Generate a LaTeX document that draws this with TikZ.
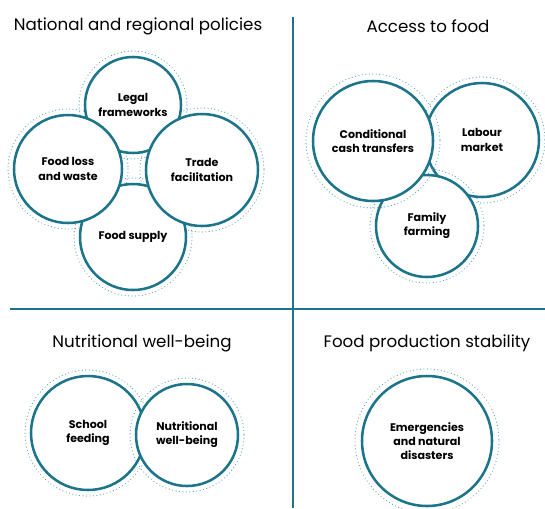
\documentclass[tikz,border=0pt]{standalone}
\usepackage{fontspec}
\setmainfont{Poppins}
\usepackage{tikz}

\definecolor{teal}{RGB}{27,116,137}
\definecolor{dots}{RGB}{95,165,185}

\begin{document}
\begin{tikzpicture}[x=0.75pt,y=-0.75pt,
    title/.style={font=\fontsize{12.5}{15}\selectfont, text=black},
    circ/.style={circle, draw=teal, line width=1.9pt, fill=white, inner sep=0pt, align=center,
                 font=\bfseries\fontsize{8.3}{10.6}\selectfont, minimum size=#1*0.75pt},
    ring/.style={draw=dots, line width=0.9pt, line cap=round, dash pattern=on 0pt off 2.6pt},
    divider/.style={draw=teal, line width=1.4pt}]
    \useasboundingbox (0,0) rectangle (545,508);

    % Dividers
    \coordinate (vtop) at (293,17);
    \coordinate (vbot) at (293,508);
    \coordinate (hleft) at (10,309);
    \coordinate (hright) at (545,309);
    \draw[divider] (vtop) -- (vbot);
    \draw[divider] (hleft) -- (hright);

    % Titles
    \node[title] (t1) at (138,26) {National and regional policies};
    \node[title] (t2) at (428,26) {Access to food};
    \node[title] (t3) at (142,343) {Nutritional well-being};
    \node[title] (t4) at (427,343) {Food production stability};

    % National and regional policies
    \coordinate (c-legal) at (133,105);
    \coordinate (c-loss) at (68,169);
    \coordinate (c-trade) at (202,170);
    \coordinate (c-supply) at (133,237);
    \draw[ring] (c-legal) circle[radius=54];
    \draw[ring] (c-loss) circle[radius=60];
    \draw[ring] (c-trade) circle[radius=62];
    \draw[ring] (c-supply) circle[radius=59];
    \node[circ=96] (legal) at (c-legal) {Legal\\frameworks};
    \node[circ=106] (supply) at (c-supply) {Food supply};
    \node[circ=108] (loss) at (c-loss) {Food loss\\and waste};
    \node[circ=112] (trade) at (c-trade) {Trade\\facilitation};

    % Access to food
    \coordinate (c-cash) at (373,141);
    \coordinate (c-labour) at (482,140);
    \coordinate (c-family) at (427,226);
    \draw[ring] (c-labour) circle[radius=63];
    \node[circ=114] (labour) at (c-labour) {Labour\\market};
    \draw[ring] (c-family) circle[radius=57];
    \node[circ=102] (family) at (c-family) {Family\\farming};
    \draw[ring] (c-cash) circle[radius=67];
    \node[circ=120] (cash) at (c-cash) {Conditional\\cash transfers};

    % Nutritional well-being
    \coordinate (c-school) at (88,433);
    \coordinate (c-nutri) at (187,435);
    \draw[ring] (c-school) circle[radius=63];
    \node[circ=114] (school) at (c-school) {School\\feeding};
    \draw[ring] (c-nutri) circle[radius=57];
    \node[circ=102] (nutri) at (c-nutri) {Nutritional\\well-being};

    % Food production stability
    \coordinate (c-emerg) at (427,441);
    \draw[ring] (c-emerg) circle[radius=72];
    \node[circ=130] (emerg) at (c-emerg) {Emergencies\\and natural\\disasters};
\end{tikzpicture}
\end{document}
